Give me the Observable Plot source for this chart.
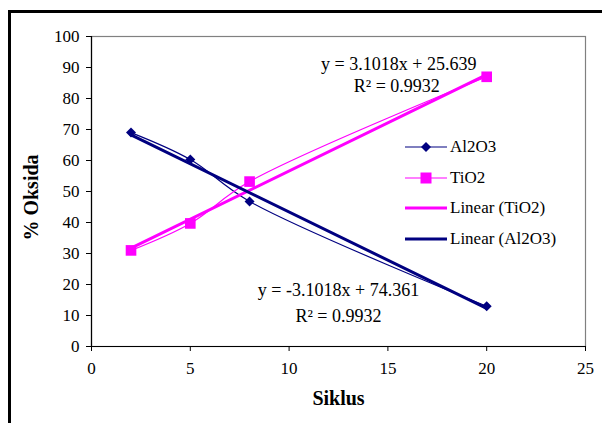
<!DOCTYPE html>
<html>
<head>
<meta charset="utf-8">
<script src="https://cdn.jsdelivr.net/npm/d3@7"></script>
<script src="https://cdn.jsdelivr.net/npm/@observablehq/plot@0.6"></script>
<style>
  html, body { margin: 0; padding: 0; background: #fff; overflow: hidden; }
  #wrap { position: relative; width: 602px; height: 423px; overflow: hidden; font-family: "Liberation Serif", "Times New Roman", serif; }
  #border { position: absolute; left: 8px; top: 10px; width: 700px; height: 600px; border: 3px solid #000; box-sizing: border-box; }
  #chart { position: absolute; left: 0; top: 0; }
  #legend { position: absolute; left: 405px; top: 134px; font-size: 17px; color: #000; }
  .row { position: absolute; left: 0; height: 26px; white-space: nowrap; }
  .row svg { position: absolute; left: 0; top: 0; }
  .row span { position: absolute; left: 45px; top: 2px; line-height: 22px; }
</style>
</head>
<body>
<div id="wrap">
  <div id="border"></div>
  <div id="chart"></div>
  <div id="legend"></div>
</div>
<script>
// ---- data ----
const siklus = [2, 5, 8, 20];
const al2o3 = [69, 60.3, 46.8, 13];
const tio2 = [31, 39.7, 53.2, 87];
const xTicks = [0, 5, 10, 15, 20, 25];
const yTicks = [0, 10, 20, 30, 40, 50, 60, 70, 80, 90, 100];
const seriesNames = ["Al2O3", "TiO2"];
const legendLabels = ["Al2O3", "TiO2", "Linear (TiO2)", "Linear (Al2O3)"];
const eqTexts = ["y = 3.1018x + 25.639", "R² = 0.9932", "y = -3.1018x + 74.361", "R² = 0.9932"];
const eqX = [15.55, 15.45, 12.5, 12.5];
const eqY = [91, 83.9, 18.1, 9.7];
const xLabel = "Siklus";
const yLabel = "% Oksida";

const colors = { "Al2O3": "#000080", "TiO2": "#FF00FF" };

const rows = [];
siklus.forEach((x, i) => {
  rows.push({ series: "Al2O3", x, y: al2o3[i] });
  rows.push({ series: "TiO2", x, y: tio2[i] });
});
const alRows = rows.filter(d => d.series === "Al2O3");
const tiRows = rows.filter(d => d.series === "TiO2");
const eqs = eqTexts.map((t, i) => ({ t, x: eqX[i], y: eqY[i] }));

// Excel-style diamond (square rotated 45°)
const excelDiamond = {
  draw(context, size) {
    const h = Math.sqrt(size / 2);
    context.moveTo(0, -h);
    context.lineTo(h, 0);
    context.lineTo(0, h);
    context.lineTo(-h, 0);
    context.closePath();
  }
};

const chart = Plot.plot({
  width: 602,
  height: 423,
  marginLeft: 91,
  marginRight: 17,
  marginTop: 36,
  marginBottom: 77,
  style: { fontFamily: "Liberation Serif, Times New Roman, serif", fontSize: "17px", background: "transparent", color: "#000" },
  x: { domain: [0, 25] },
  y: { domain: [0, 100] },
  marks: [
    Plot.frame({ stroke: "#808080", strokeWidth: 1.2 }),
    Plot.ruleX([0], { stroke: "#000", strokeWidth: 1.2 }),
    Plot.ruleY([0], { stroke: "#000", strokeWidth: 1.2 }),
    Plot.axisX({ ticks: xTicks, tickSize: 5, tickPadding: 10, tickFormat: d => String(d), label: null, stroke: "#000", fontSize: 17 }),
    Plot.axisY({ ticks: yTicks, tickSize: 5, tickPadding: 7, tickFormat: d => String(d), label: null, stroke: "#000", fontSize: 17 }),
    // data lines (smoothed)
    Plot.line(alRows, { x: "x", y: "y", stroke: colors["Al2O3"], strokeWidth: 1.2, curve: "catmull-rom" }),
    Plot.line(tiRows, { x: "x", y: "y", stroke: colors["TiO2"], strokeWidth: 1.2, curve: "catmull-rom" }),
    // trend lines
    Plot.linearRegressionY(tiRows, { x: "x", y: "y", stroke: colors["TiO2"], strokeWidth: 3, ci: 0 }),
    Plot.linearRegressionY(alRows, { x: "x", y: "y", stroke: colors["Al2O3"], strokeWidth: 3, ci: 0 }),
    // markers
    Plot.dot(alRows, { x: "x", y: "y", symbol: excelDiamond, fill: colors["Al2O3"], r: 4 }),
    Plot.dot(tiRows, { x: "x", y: "y", symbol: "square", fill: colors["TiO2"], r: 6 }),
    // equations
    Plot.text(eqs, { x: "x", y: "y", text: "t", textAnchor: "middle", lineAnchor: "middle", fill: "#000", fontSize: 18 }),
    // axis titles
    Plot.text([xLabel], { frameAnchor: "bottom", textAnchor: "middle", lineAnchor: "bottom", dy: 58, text: d => d, fontWeight: "bold", fontSize: 20, fill: "#000" }),
    Plot.text([yLabel], { frameAnchor: "left", textAnchor: "middle", lineAnchor: "bottom", dx: -54, dy: 6, rotate: -90, text: d => d, fontWeight: "bold", fontSize: 20, fill: "#000" })
  ]
});
document.getElementById("chart").appendChild(chart);

// ---- legend ----
const legendSpec = [
  { label: legendLabels[0], color: colors["Al2O3"], sym: "diamond", w: 1.2 },
  { label: legendLabels[1], color: colors["TiO2"], sym: "square", w: 1.2 },
  { label: legendLabels[2], color: colors["TiO2"], sym: null, w: 3 },
  { label: legendLabels[3], color: colors["Al2O3"], sym: null, w: 3 }
];
const rowTops = [0, 31, 61, 92];
const leg = document.getElementById("legend");
legendSpec.forEach((it, i) => {
  const row = document.createElement("div");
  row.className = "row";
  row.style.top = rowTops[i] + "px";
  let marker = "";
  if (it.sym === "diamond") marker = `<path d="M21,8 L26,13 L21,18 L16,13 Z" fill="${it.color}"/>`;
  if (it.sym === "square") marker = `<rect x="15.5" y="7.5" width="11" height="11" fill="${it.color}"/>`;
  row.innerHTML = `<svg width="44" height="26"><line x1="0" x2="42" y1="13" y2="13" stroke="${it.color}" stroke-width="${it.w}"/>${marker}</svg><span>${it.label}</span>`;
  leg.appendChild(row);
});
</script>
</body>
</html>
